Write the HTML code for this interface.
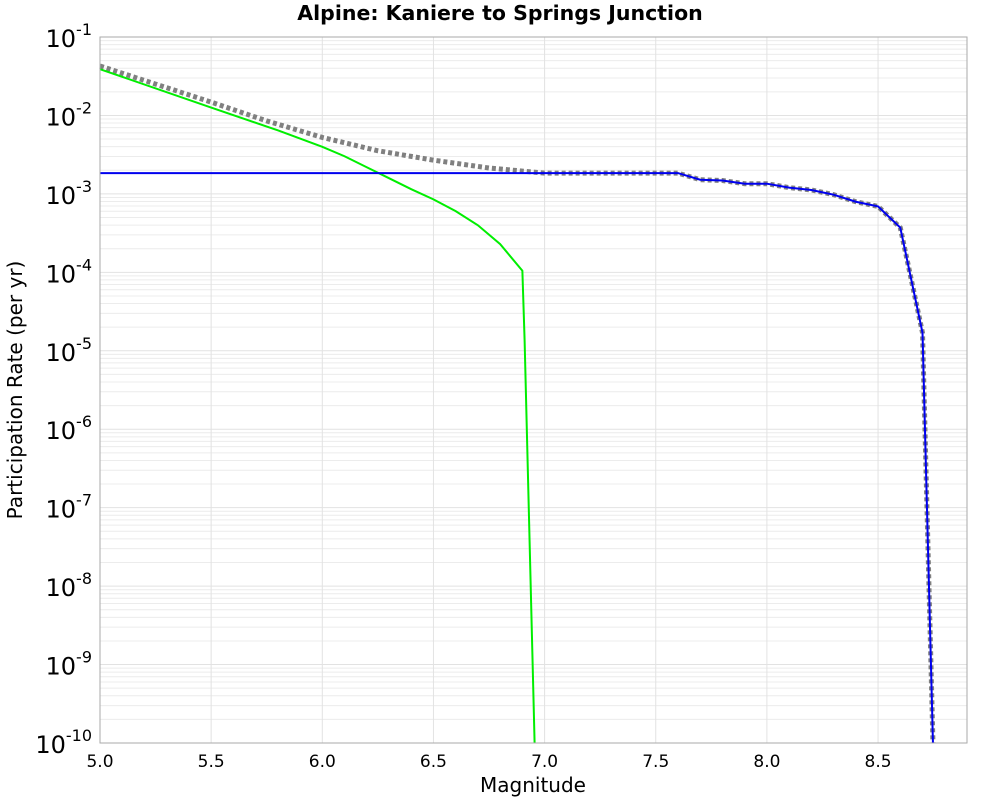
<!DOCTYPE html>
<html><head><meta charset="utf-8"><style>
body{margin:0;background:#fff;font-family:"Liberation Sans","DejaVu Sans",sans-serif}
</style></head><body>
<svg id="chart" width="1000" height="800" xmlns="http://www.w3.org/2000/svg">
<text x="500" y="20" text-anchor="middle" font-size="20.5" font-weight="bold" font-family="DejaVu Sans, sans-serif">Alpine: Kaniere to Springs Junction</text>
<g id="grid"></g>
<g id="series"></g>
<rect x="100" y="37" width="867" height="706" fill="none" stroke="#aaa"/>
<g id="axes"></g>
<text x="533" y="792" text-anchor="middle" font-size="20" font-family="DejaVu Sans, sans-serif">Magnitude</text>
<text transform="translate(22,390) rotate(-90)" text-anchor="middle" font-size="20" font-family="DejaVu Sans, sans-serif">Participation Rate (per yr)</text>
</svg>
<script>
const xTicks=[5.0,5.5,6.0,6.5,7.0,7.5,8.0,8.5];
const yExps=[-1,-2,-3,-4,-5,-6,-7,-8,-9,-10];
const greenMag=[5.0,5.5,5.8,6.0,6.1,6.2,6.3,6.4,6.5,6.6,6.7,6.8,6.9,6.91,6.955];
const greenLog=[-1.41,-1.90,-2.19,-2.40,-2.52,-2.66,-2.80,-2.94,-3.07,-3.22,-3.40,-3.64,-3.98,-4.86,-10];
const blueMag=[5.0,7.6,7.7,7.8,7.9,8.0,8.1,8.2,8.3,8.4,8.5,8.6,8.7,8.747];
const blueLog=[-2.735,-2.735,-2.82,-2.83,-2.87,-2.87,-2.92,-2.95,-3.01,-3.10,-3.16,-3.43,-4.77,-10];
const grayMag=[5.0,5.25,5.5,5.75,6.0,6.25,6.5,6.75,7.0,7.6,7.7,7.8,7.9,8.0,8.1,8.2,8.3,8.4,8.5,8.6,8.7,8.747];
const grayLog=[-1.37,-1.60,-1.83,-2.07,-2.28,-2.45,-2.57,-2.67,-2.735,-2.735,-2.82,-2.83,-2.87,-2.87,-2.92,-2.95,-3.01,-3.10,-3.16,-3.43,-4.77,-10];
const NS="http://www.w3.org/2000/svg";
const X0=100,X1=967,Y0=37,Y1=743;
const xs=m=>X0+(m-5.0)*222.3;
const ys=l=>Y0+(-1-l)*(Y1-Y0)/9;
function mk(t,a,p){const e=document.createElementNS(NS,t);for(const k in a)e.setAttribute(k,a[k]);p.appendChild(e);return e;}
const grid=document.getElementById('grid'),axes=document.getElementById('axes'),ser=document.getElementById('series');
for(let d=-10;d<-1;d++){for(let k=2;k<=9;k++){const y=ys(d+Math.log10(k));
const l=mk('line',{x1:X0,x2:X1,y1:y,y2:y,stroke:'#ececec'},grid);

}}
yExps.forEach(e=>{const y=ys(e);
const l=mk('line',{x1:X0,x2:X1,y1:y,y2:y,stroke:'#e2e2e2'},grid);


const t=mk('text',{x:X0-8,y:y+10,'text-anchor':'end','font-size':24,'font-family':'DejaVu Sans, sans-serif'},axes);


t.innerHTML='10<tspan dy="-12" font-size="16">'+e+'</tspan>';});
xTicks.forEach(v=>{const x=xs(v);
const l=mk('line',{x1:x,x2:x,y1:Y0,y2:Y1,stroke:'#e2e2e2'},grid);


const t=mk('text',{x:x,y:767,'text-anchor':'middle','font-size':17,'font-family':'DejaVu Sans, sans-serif'},axes);


t.textContent=v.toFixed(1);});
function line(mags,logs,attrs,name){const pts=mags.map((m,i)=>xs(m)+','+ys(logs[i])).join(' ');
const p=mk('polyline',Object.assign({points:pts,fill:'none'},attrs),ser);

}
line(grayMag,grayLog,{stroke:'#808080','stroke-width':5,'stroke-dasharray':'4,3'},'total-rate-line');
line(greenMag,greenLog,{stroke:'#00ee00','stroke-width':2},'gr-rate-line');
line(blueMag,blueLog,{stroke:'#0000ee','stroke-width':2},'char-rate-line');
</script>
</body></html>
